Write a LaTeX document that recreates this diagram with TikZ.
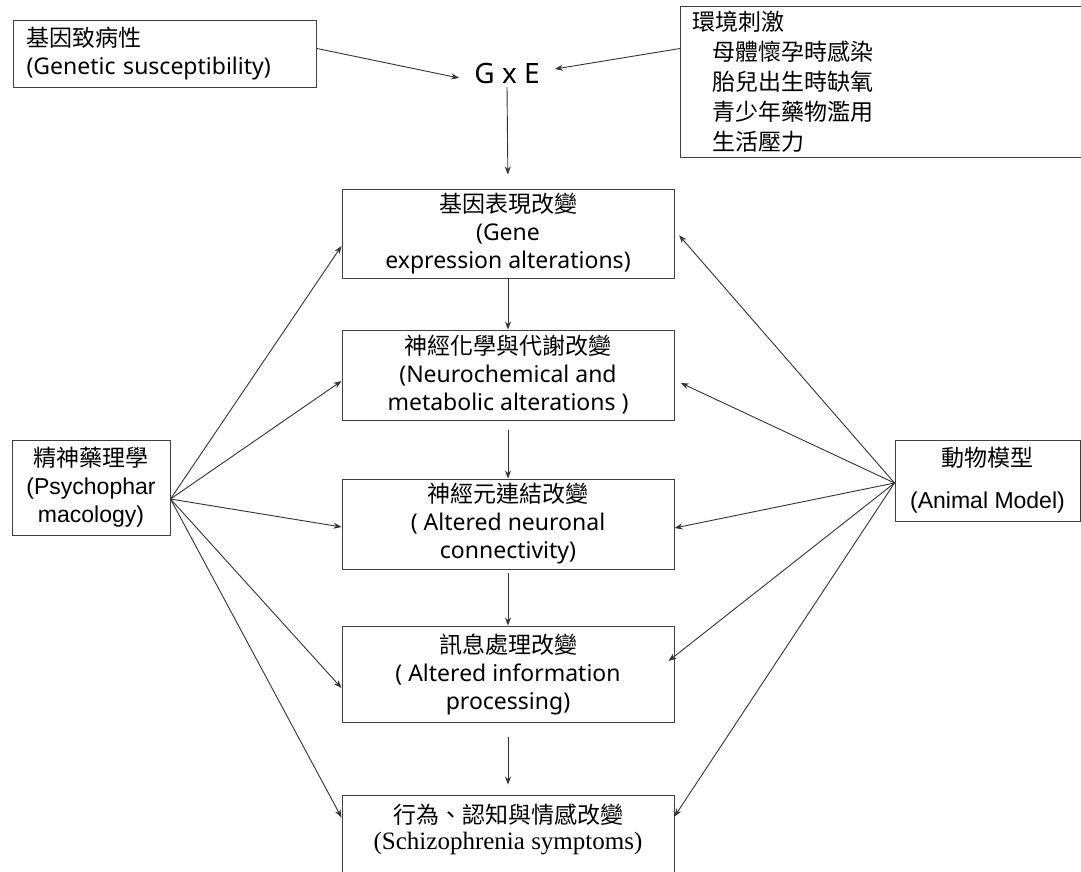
\documentclass[tikz,border=0pt]{standalone}
\usepackage{fontspec}
\setmainfont{Noto Sans}
\newfontfamily\cjk{Noto Sans CJK TC}
\newfontfamily\arialfont{Liberation Sans}
\newfontfamily\timesfont{Liberation Serif}
\usetikzlibrary{arrows.meta, positioning}
\newcommand{\boxfont}{\fontsize{23}{28}\selectfont}
\tikzstyle{infobox} = [rectangle, draw=black!75, line width=1pt, align=left, inner xsep=13pt, font=\boxfont]
\tikzstyle{stage} = [rectangle, draw=black!75, line width=1pt, minimum width=332pt, minimum height=90pt, align=center, inner sep=3pt, font=\boxfont]
\tikzstyle{side} = [rectangle, draw=black!75, line width=1pt, align=center, inner sep=3pt, font=\arialfont\boxfont]
\tikzstyle{arrow} = [line width=0.9pt, draw=black!80, ->, >={Stealth[length=8pt,width=6pt]}]

\begin{document}
\begin{tikzpicture}[x=1pt, y=-1pt]
    \fill [white] (0,0) rectangle (1081,871);
    \useasboundingbox (0,0) rectangle (1081,871);

    % inputs
    \node (genetic) [infobox, anchor=north west, text width=277pt, minimum height=67pt] at (13,20) {{\cjk 基因致病性}\\(Genetic susceptibility)};
    \node (env) [infobox, anchor=north west, text width=400pt, inner xsep=12pt, minimum height=151pt, font=\cjk\fontsize{23}{30}\selectfont] at (680,6) {環境刺激\\
      \hspace*{20pt}母體懷孕時感染\\
      \hspace*{20pt}胎兒出生時缺氧\\
      \hspace*{20pt}青少年藥物濫用\\
      \hspace*{20pt}生活壓力};
    \node (gxe) [font=\fontsize{28}{34}\selectfont, inner xsep=15pt] at (507,73) {G x E};

    % main chain
    \node (gene) [stage, minimum height=89pt] at (508,233.5) {{\cjk 基因表現改變}\\(Gene\\expression alterations)};
    \node (neuro) [stage, below=51pt of gene] {{\cjk 神經化學與代謝改變}\\(Neurochemical and\\metabolic alterations )};
    \node (conn) [stage, below=58pt of neuro] {{\cjk 神經元連結改變}\\( Altered neuronal\\connectivity)};
    \node (info) [stage, minimum height=96pt, below=56pt of conn] {{\cjk 訊息處理改變}\\( Altered information\\processing)};
    \node (symp) [stage, minimum height=0pt, inner ysep=9pt, text depth=40pt, below=72pt of info, font=\fontsize{23}{26}\selectfont] {{\cjk 行為、認知與情感改變}\\{\timesfont\fontsize{25}{26}\selectfont (Schizophrenia symptoms)}};

    % side boxes
    \node (psycho) [side, minimum width=158pt, minimum height=95pt] at (91,487.5) {{\cjk 精神藥理學}\\(Psychophar\\macology)};
    \node (animal) [side, minimum width=185pt, minimum height=81pt] at (987.5,480.5) {{\cjk 動物模型}\\[14pt](Animal Model)};
    \coordinate (psyhub) at ([yshift=-11.5pt]psycho.east);
    \coordinate (animhub) at ([yshift=-2.5pt]animal.west);

    \draw [arrow] ([yshift=5.5pt]genetic.east) -- ([yshift=-5pt]gxe.west);
    \draw [arrow] ([yshift=33.5pt]env.west) -- ([yshift=4pt]gxe.east);
    \draw [arrow, shorten >=14pt] (gxe.south) -- (gene.north);
    \draw [arrow] (gene) -- (neuro);
    \draw [arrow, shorten <=9pt] (neuro) -- (conn);
    \draw [arrow, shorten <=3pt] (conn) -- (info);
    \draw [arrow, shorten <=14pt, shorten >=10pt] (info.south) -- (symp.north);

    % psychopharmacology
    \draw [arrow] (psyhub) -- ([yshift=-12.5pt]gene.west);
    \draw [arrow] (psyhub) -- ([yshift=-6pt]neuro.west);
    \draw [arrow] (psyhub) -- ([yshift=-3pt]conn.west);
    \draw [arrow] (psyhub) -- ([yshift=-14pt]info.west);
    \draw [arrow] (psyhub) -- ([yshift=-23pt]symp.north west);
    % animal model
    \draw [arrow, shorten >=7pt] (animhub) -- ([yshift=3.5pt]gene.east);
    \draw [arrow, shorten >=7pt] (animhub) -- ([yshift=-5pt]neuro.east);
    \draw [arrow] (animhub) -- ([yshift=-4pt]conn.east);
    \draw [arrow] (animhub) -- ([xshift=-6pt, yshift=13pt]info.east);
    \draw [arrow] (animhub) -- ([yshift=-22pt]symp.north east);
  \end{tikzpicture}
\end{document}
